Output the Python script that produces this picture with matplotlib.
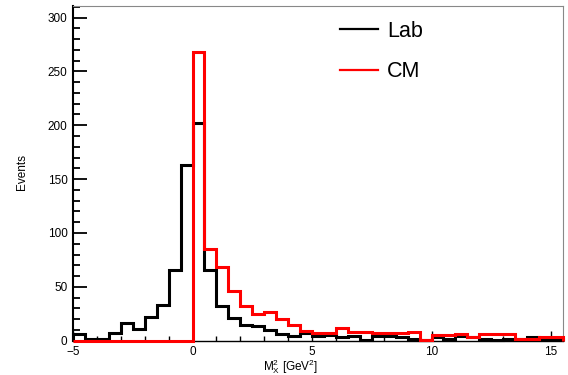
import numpy as np
import matplotlib
matplotlib.use("Agg")
import matplotlib.pyplot as plt
from matplotlib.ticker import MultipleLocator
from matplotlib.lines import Line2D

plt.rcParams['font.family'] = ['Liberation Sans', 'DejaVu Sans']
plt.rcParams['mathtext.fontset'] = 'custom'
plt.rcParams['mathtext.rm'] = 'Liberation Sans'
plt.rcParams['mathtext.it'] = 'Liberation Sans'

# bin edges: -5 .. 15.5, width 0.5
bin_low = -5.0
bin_high = 15.5
bin_width = 0.5

lab_counts = [6, 2, 2, 7, 16, 11, 22, 33, 66, 163,
              202, 66, 32, 21, 15, 14, 10, 6, 4, 7,
              4, 5, 3, 4, 1, 4, 4, 3, 2, 1,
              3, 2, 4, 3, 2, 1, 2, 2, 3, 2, 2]
cm_counts = [0, 0, 0, 0, 0, 0, 0, 0, 0, 0,
             268, 85, 68, 46, 32, 25, 27, 20, 15, 9,
             7, 7, 12, 8, 8, 7, 7, 7, 8, 1,
             5, 5, 6, 3, 6, 6, 6, 2, 2, 3, 3]
labels = ["Lab", "CM"]
colors = ["black", "#ff0000"]

edges = np.arange(bin_low, bin_high + bin_width / 2, bin_width)

fig = plt.figure(figsize=(5.68, 3.75), dpi=100)
ax = fig.add_axes([73/568, 1-340.7/375, 490/568, 335/375])

ax.stairs(lab_counts, edges, baseline=0, color=colors[0], lw=2.2, zorder=3, clip_on=False)
ax.stairs(cm_counts, edges, baseline=0, color=colors[1], lw=2.2, zorder=4, clip_on=False)

ax.set_xlim(-5, 15.5)
ax.set_ylim(0, 311)

ax.xaxis.set_major_locator(MultipleLocator(5))
ax.xaxis.set_minor_locator(MultipleLocator(1))
ax.yaxis.set_major_locator(MultipleLocator(50))
ax.yaxis.set_minor_locator(MultipleLocator(10))

ax.tick_params(axis='y', which='major', direction='in', length=10, width=1.3, labelsize=8.5, pad=4)
ax.tick_params(axis='y', which='minor', direction='in', length=5, width=1.3)
ax.tick_params(axis='x', which='major', direction='in', length=7, width=1.0, labelsize=8.5, pad=4)
ax.tick_params(axis='x', which='minor', direction='in', length=3.5, width=1.0)

ax.spines['left'].set_linewidth(1.5)
ax.spines['bottom'].set_linewidth(1.0)
for s in ['top', 'right']:
    ax.spines[s].set_color('#888888')
    ax.spines[s].set_linewidth(0.8)

fig.text(291/568, 1-367/375, r"$\mathrm{M_{X}^{2}}$ [GeV$^{2}$]", ha='center', va='center', fontsize=8.5)
fig.text(22/568, 1-172/375, "Events", rotation=90, ha='center', va='center', fontsize=8.5)

handles = [Line2D([], [], color=c, lw=1.6) for c in colors]
ax.legend(handles, labels, loc='upper left', bbox_to_anchor=(0.545, 0.955),
          frameon=False, fontsize=15.5, handlelength=1.77, handletextpad=0.42,
          labelspacing=0.9, borderpad=0, borderaxespad=0)

fig.savefig("out.png", dpi=100)
